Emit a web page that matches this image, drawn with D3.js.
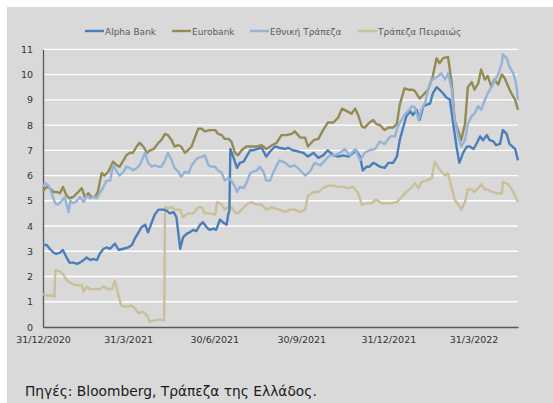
<!DOCTYPE html>
<html><head><meta charset="utf-8">
<script src="https://cdn.jsdelivr.net/npm/d3@7"></script>
<style>html,body{margin:0;padding:0;background:#fff;}svg{display:block;}</style>
</head><body>
<svg id="c" width="553" height="403"></svg>
<script>
// Data: [day offset from 31/12/2020, price in euro]
const seriesNames = ["Alpha Bank", "Eurobank", "Εθνική Τράπεζα", "Τράπεζα Πειραιώς"];
const alphaBank = [[0,3.25],[4,3.25],[7,3.1],[11,2.95],[14,2.9],[18,2.95],[21,3.05],[25,2.75],[28,2.55],[32,2.55],[36,2.5],[39,2.55],[43,2.65],[46,2.75],[50,2.65],[53,2.7],[57,2.65],[60,2.9],[64,3.1],[67,3.15],[71,3.1],[76,3.3],[80,3.05],[85,3.1],[90,3.15],[94,3.25],[97,3.5],[101,3.75],[104,3.95],[108,4.05],[111,3.75],[115,4.15],[118,4.45],[122,4.65],[127,4.65],[131,4.6],[134,4.5],[138,4.55],[141,4.35],[145,3.1],[148,3.55],[152,3.7],[155,3.75],[159,3.85],[162,3.8],[166,4.05],[169,4.15],[173,3.95],[176,3.85],[180,3.9],[183,3.85],[187,4.25],[190,4.15],[194,4.05],[196,4.5],[197,4.6],[198,7.05],[201,6.75],[205,6.3],[208,6.5],[212,6.55],[215,6.75],[219,7.0],[222,7.0],[226,7.05],[231,7.1],[236,6.75],[240,6.95],[245,7.15],[250,7.1],[256,7.05],[259,7.1],[264,7.0],[270,6.95],[275,6.9],[280,6.75],[286,6.9],[291,6.7],[296,6.8],[301,7.0],[307,6.8],[312,6.75],[317,6.8],[323,6.75],[328,6.9],[331,7.0],[335,6.75],[338,6.2],[342,6.35],[345,6.35],[349,6.5],[352,6.45],[356,6.35],[361,6.3],[365,6.5],[370,6.5],[374,6.75],[377,7.4],[381,7.95],[384,8.35],[388,8.55],[391,8.4],[395,8.6],[398,8.2],[402,8.75],[405,8.8],[409,8.85],[412,9.25],[416,9.5],[419,9.4],[423,9.25],[426,9.1],[430,9.0],[433,8.2],[437,7.15],[440,6.5],[444,6.9],[448,7.15],[451,7.15],[455,7.05],[458,7.25],[462,7.55],[465,7.4],[469,7.6],[472,7.4],[476,7.35],[479,7.2],[483,7.25],[486,7.8],[490,7.65],[493,7.25],[499,7.05],[502,6.6]];
const eurobank = [[0,5.4],[4,5.55],[7,5.5],[11,5.35],[14,5.35],[18,5.3],[21,5.55],[25,5.2],[28,5.1],[32,5.15],[36,5.3],[41,5.5],[44,5.15],[48,5.3],[51,5.15],[55,5.15],[58,5.35],[62,6.1],[65,6.0],[69,6.15],[74,6.55],[78,6.4],[81,6.35],[85,6.6],[88,6.8],[92,6.9],[95,6.9],[99,7.15],[102,7.3],[106,7.15],[110,6.9],[113,7.0],[117,7.05],[122,7.3],[125,7.4],[129,7.65],[132,7.6],[136,7.4],[139,7.15],[143,7.2],[146,7.15],[150,6.9],[153,7.0],[157,7.15],[161,7.55],[164,7.85],[168,7.85],[171,7.75],[176,7.8],[182,7.8],[185,7.65],[189,7.6],[192,7.45],[196,7.45],[199,7.35],[203,6.9],[206,6.8],[210,7.0],[215,7.15],[220,7.15],[226,7.15],[231,7.2],[236,7.05],[242,7.2],[247,7.3],[252,7.6],[257,7.6],[263,7.65],[266,7.75],[272,7.5],[277,7.5],[280,7.15],[286,7.4],[291,7.45],[296,7.8],[301,8.1],[307,8.1],[312,8.3],[316,8.65],[321,8.55],[326,8.45],[330,8.65],[333,8.4],[337,7.95],[340,7.9],[345,8.1],[349,8.2],[352,8.05],[356,8.0],[361,7.8],[365,7.9],[370,7.9],[374,8.05],[377,8.8],[382,9.45],[386,9.4],[390,9.4],[393,9.35],[398,9.05],[402,9.2],[407,9.4],[412,9.95],[416,10.65],[419,10.45],[423,10.65],[428,10.7],[432,9.65],[435,8.2],[439,7.75],[442,7.4],[446,8.05],[449,9.5],[453,9.7],[456,9.4],[460,9.65],[463,10.2],[467,9.8],[470,9.95],[474,9.5],[477,9.8],[481,9.6],[485,10.0],[488,9.85],[492,9.5],[495,9.25],[499,9.0],[502,8.6]];
const ethniki = [[0,5.55],[2,5.7],[6,5.6],[9,5.3],[13,4.9],[16,4.85],[20,5.0],[23,5.15],[27,4.55],[29,5.0],[32,4.9],[36,5.0],[39,5.15],[43,4.95],[46,5.2],[50,5.1],[53,5.15],[57,5.1],[60,5.3],[64,5.55],[67,5.8],[71,5.8],[74,6.4],[78,6.15],[81,6.0],[85,6.15],[88,6.35],[92,6.3],[95,6.2],[99,6.3],[102,6.4],[108,6.9],[111,6.5],[115,6.35],[118,6.4],[122,6.35],[125,6.35],[129,6.6],[132,6.9],[136,6.6],[139,6.3],[143,6.15],[146,5.95],[150,6.15],[154,6.1],[157,6.4],[161,6.6],[164,6.7],[168,6.75],[171,6.8],[175,6.4],[178,6.35],[182,6.35],[185,6.2],[189,6.1],[192,5.8],[196,5.9],[199,5.8],[203,5.55],[205,5.35],[208,5.55],[212,5.5],[215,5.7],[219,6.1],[222,6.15],[226,6.2],[229,6.35],[233,6.15],[236,5.8],[240,5.8],[243,6.1],[247,6.4],[250,6.6],[256,6.5],[261,6.35],[266,6.4],[272,6.2],[277,6.0],[282,6.15],[287,6.5],[293,6.4],[298,6.6],[303,6.8],[308,6.8],[314,6.9],[319,7.05],[324,6.8],[330,7.05],[335,6.6],[340,6.9],[345,7.0],[351,7.05],[356,7.35],[361,7.25],[367,7.55],[372,7.55],[375,7.95],[379,8.2],[382,8.4],[386,8.55],[390,8.75],[393,8.7],[397,8.2],[400,8.6],[404,8.9],[407,9.4],[411,9.8],[414,9.85],[418,9.95],[421,10.05],[425,9.8],[428,10.05],[432,9.4],[435,8.2],[439,7.55],[442,7.15],[446,7.4],[449,8.05],[453,8.35],[456,8.45],[460,8.75],[463,8.6],[467,9.0],[470,9.25],[474,9.5],[478,9.8],[481,10.0],[485,10.45],[486,10.8],[490,10.65],[493,10.3],[497,10.05],[500,9.65],[502,9.0]];
const piraeus = [[0,1.3],[4,1.25],[9,1.25],[12,1.2],[13,2.25],[18,2.2],[22,2.05],[25,1.85],[29,1.75],[32,1.7],[37,1.65],[41,1.65],[43,1.4],[46,1.6],[50,1.5],[55,1.5],[60,1.5],[64,1.6],[69,1.5],[73,1.5],[76,1.85],[80,1.2],[83,0.85],[88,0.8],[94,0.85],[97,0.75],[101,0.55],[106,0.6],[110,0.45],[113,0.2],[117,0.25],[122,0.3],[128,0.25],[129,4.75],[132,4.7],[136,4.75],[139,4.65],[145,4.65],[148,4.35],[153,4.5],[159,4.5],[164,4.75],[168,4.75],[171,4.5],[176,4.5],[182,4.45],[184,4.95],[189,4.85],[192,4.65],[196,4.75],[199,4.75],[203,4.55],[206,4.5],[210,4.65],[215,4.85],[220,4.95],[226,4.85],[231,4.85],[236,4.65],[242,4.75],[245,4.7],[250,4.65],[256,4.55],[261,4.65],[266,4.65],[272,4.55],[277,4.65],[280,5.2],[286,5.35],[291,5.35],[296,5.5],[301,5.6],[307,5.6],[312,5.55],[317,5.55],[323,5.5],[328,5.55],[333,5.3],[337,4.85],[342,4.9],[347,4.9],[352,5.05],[358,4.9],[363,4.9],[368,4.9],[374,4.95],[379,5.15],[384,5.35],[389,5.5],[393,5.7],[397,5.5],[400,5.75],[405,5.8],[411,5.9],[414,6.55],[418,6.3],[421,6.15],[425,6.0],[428,6.1],[432,5.5],[435,5.05],[439,4.85],[442,4.65],[446,4.95],[449,5.45],[453,5.45],[456,5.35],[460,5.5],[463,5.65],[467,5.45],[470,5.45],[474,5.35],[479,5.3],[485,5.3],[486,5.75],[492,5.65],[497,5.35],[502,4.95]];
const xTickLabels = ["31/12/2020", "31/3/2021", "30/6/2021", "30/9/2021", "31/12/2021", "31/3/2022"];
const yTicks = [0,1,2,3,4,5,6,7,8,9,10,11];
const sourceText = "Πηγές: Bloomberg, Τράπεζα της Ελλάδος.";

const colors = ["#4a7ebb", "#948a54", "#95b3d7", "#c9bf98"];
const parse = d3.timeParse("%d/%m/%Y");
const start = parse("31/12/2020");
const toDate = d => d3.timeDay.offset(start, d);
const allSeries = [alphaBank, eurobank, ethniki, piraeus];

const svg = d3.select("#c");
svg.append("rect").attr("x", 7).attr("y", 7).attr("width", 546).attr("height", 396).attr("fill", "#d9d9d9");

const x = d3.scaleTime().domain([start, toDate(502)]).range([43, 518]);
const y = d3.scaleLinear().domain([0, 11]).range([327, 49.3]);

// gridlines
svg.append("g").selectAll("line").data(yTicks.filter(v => v > 0)).join("line")
  .attr("x1", 43).attr("x2", 518).attr("y1", d => y(d)).attr("y2", d => y(d))
  .attr("stroke", "#ffffff").attr("stroke-width", 1.3);

// y axis
const yAxis = svg.append("g").attr("transform", "translate(43,0)")
  .call(d3.axisLeft(y).tickValues(yTicks).tickSize(0).tickPadding(10).tickFormat(d3.format("d")));
yAxis.select(".domain").attr("stroke", "#595959").attr("stroke-width", 1.3);
yAxis.selectAll("text").attr("font-family", "DejaVu Sans, sans-serif").attr("font-size", 9.5).attr("fill", "#333");

// x axis
const xAxis = svg.append("g").attr("transform", "translate(0,327)")
  .call(d3.axisBottom(x).tickValues(xTickLabels.map(parse)).tickSize(0).tickPadding(9)
    .tickFormat((d, i) => xTickLabels[i]));
xAxis.select(".domain").attr("stroke", "#595959").attr("stroke-width", 1.3);
xAxis.selectAll("text").attr("font-family", "DejaVu Sans, sans-serif").attr("font-size", 9.5).attr("fill", "#333");

// lines
const line = d3.line().x(d => x(toDate(d[0]))).y(d => y(d[1]));
[3, 0, 1, 2].forEach(i => {
  svg.append("path").datum(allSeries[i]).attr("d", line)
    .attr("fill", "none").attr("stroke", colors[i]).attr("stroke-width", 2.4)
    .attr("stroke-linejoin", "round");
});

// legend
const legendX = [85, 172, 250, 358];
const lg = svg.append("g");
seriesNames.forEach((n, i) => {
  lg.append("line").attr("x1", legendX[i]).attr("x2", legendX[i] + 19)
    .attr("y1", 31).attr("y2", 31).attr("stroke", colors[i]).attr("stroke-width", 2.4);
  lg.append("text").attr("x", legendX[i] + 20).attr("y", 34.5).text(n)
    .attr("font-family", "DejaVu Sans, sans-serif").attr("font-size", 9).attr("fill", "#595959");
});

svg.append("text").attr("x", 25).attr("y", 396).text(sourceText)
  .attr("font-family", "DejaVu Sans, sans-serif").attr("font-size", 13.8).attr("fill", "#1a1a1a");
</script>
</body></html>
